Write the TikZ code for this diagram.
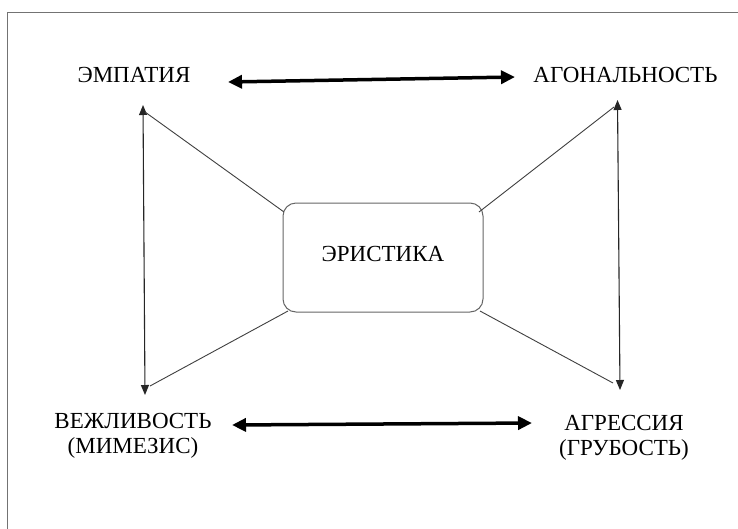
\documentclass[tikz,border=0pt]{standalone}
\usepackage{fontspec}
\setmainfont{Liberation Serif}
\usetikzlibrary{arrows.meta}
\begin{document}
\begin{tikzpicture}[x=1pt,y=-1pt,
  lbl/.style={font=\fontsize{23}{25}\selectfont, align=center, inner sep=0pt},
  thin/.style={draw=black!75, line width=0.9pt},
  vert/.style={draw=black!85, line width=1.1pt, {Triangle[length=10pt,width=8pt]}-{Triangle[length=10pt,width=8pt]}},
  thick/.style={draw=black, line width=3.5pt, {Triangle[length=14pt,width=13pt]}-{Triangle[length=14pt,width=13pt]}},
  mainbox/.style={draw=black!60, line width=1pt, rounded corners=13pt, minimum width=200pt, minimum height=109pt, font=\fontsize{23}{25}\selectfont, inner sep=0pt}
]
\useasboundingbox (0,0) rectangle (738,528);
\fill[white] (0,0) rectangle (738,528);
\draw[black!55, line width=1.2pt] (7.5,540) -- (7.5,12.5) -- (750,12.5);

\node[lbl] (emp) at (134,75) {ЭМПАТИЯ};
\node[lbl] (ago) at (625.5,75) {АГОНАЛЬНОСТЬ};
\node[lbl] (vez) at (133,435.5) {ВЕЖЛИВОСТЬ\\(МИМЕЗИС)};
\node[lbl] (agr) at (624,437.5) {АГРЕССИЯ\\(ГРУБОСТЬ)};
\node[mainbox] (eri) at (383,257.5) {\raisebox{7pt}{ЭРИСТИКА}};

\coordinate (lt) at (143,105);
\coordinate (lb) at (145,395);
\coordinate (rt) at (617.5,100);
\coordinate (rb) at (620,390);

\draw[vert] (lt) -- (lb);
\draw[vert] (rt) -- (rb);

\draw[thin] (145,112) -- (284,212);
\draw[thin] (150,386) -- (288,311);
\draw[thin] (614,107) -- (479,212);
\draw[thin] (613,383) -- (480,311);

\coordinate (ta1) at (228,82);
\coordinate (ta2) at (515,77);
\coordinate (ba1) at (232,425);
\coordinate (ba2) at (532,423);
\draw[thick] (ta1) -- (ta2);
\draw[thick] (ba1) -- (ba2);
\end{tikzpicture}
\end{document}
